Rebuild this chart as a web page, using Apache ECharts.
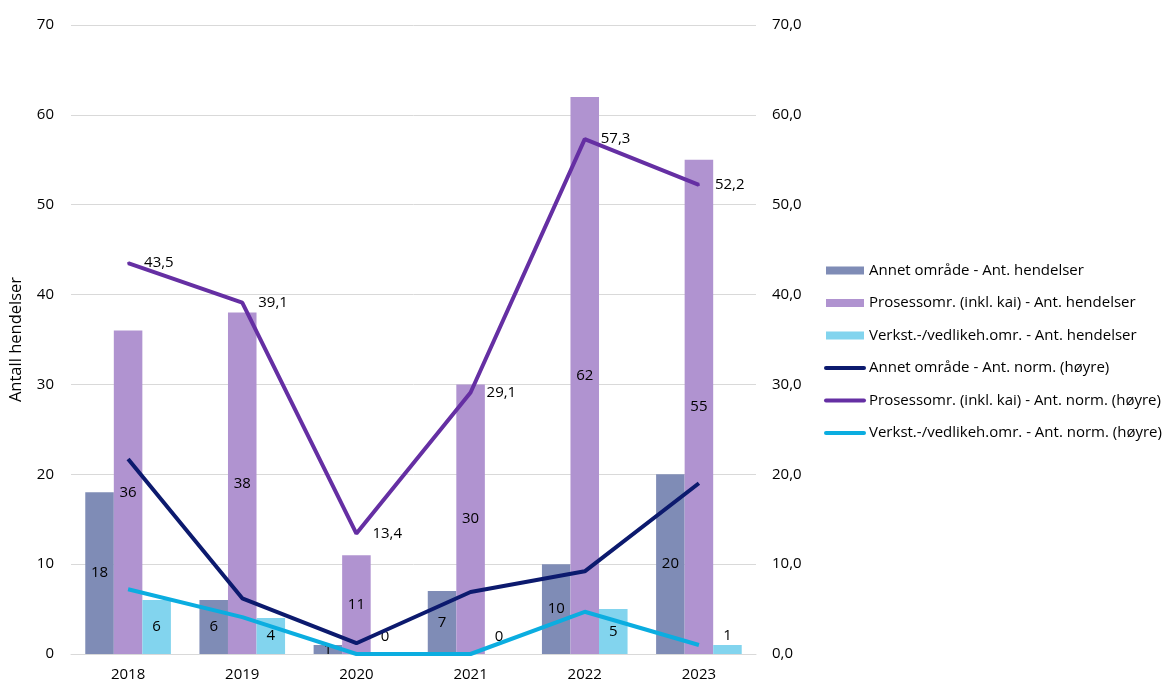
<!DOCTYPE html>
<html>
<head>
<meta charset="utf-8">
<script src="https://cdn.jsdelivr.net/npm/echarts@6/dist/echarts.min.js"></script>
<style>
html,body{margin:0;padding:0;background:#fff;}
#c{width:1172px;height:684px;}
</style>
</head>
<body>
<div id="c"></div>
<script>
const years = ['2018','2019','2020','2021','2022','2023'];
const annetCount = [18, 6, 1, 7, 10, 20];
const prosessCount = [36, 38, 11, 30, 62, 55];
const verkstCount = [6, 4, 0, 0, 5, 1];
const annetNorm = [21.7, 6.2, 1.2, 6.9, 9.2, 19.0];
const prosessNorm = [43.5, 39.1, 13.4, 29.1, 57.3, 52.2];
const verkstNorm = [7.2, 4.1, 0, 0, 4.7, 1.0];

const FONT = '"Open Sans", "Noto Sans", sans-serif';
const chart = echarts.init(document.getElementById('c'), null, {renderer: 'canvas'});

function barData(arr) {
  return arr.map(v => (v === 0 ? {value: v, label: {offset: [0, -17]}} : v));
}
const verkstData = verkstCount.map(v => {
  if (v === 0) return {value: v, label: {offset: [0, -17]}};
  if (v === 1) return {value: v, label: {offset: [0, -14]}};
  return v;
});

const barLabel = {show: true, position: 'inside', color: '#000', fontFamily: FONT, fontSize: 15};
const lineLabelFmt = p => p.value.toFixed(1).replace('.', ',');
const LW = 4;

chart.setOption({
  animation: false,
  textStyle: {fontFamily: FONT},
  grid: {left: 70, right: 416, top: 25, bottom: 30, containLabel: false},
  legend: {
    orient: 'vertical',
    left: 824,
    top: 263,
    padding: 0,
    itemWidth: 38,
    itemHeight: 8,
    itemGap: 17.5,
    textStyle: {fontFamily: FONT, fontSize: 15, color: '#000'},
    data: [
      {name: 'Annet område - Ant. hendelser', icon: 'rect'},
      {name: 'Prosessomr. (inkl. kai) - Ant. hendelser', icon: 'rect'},
      {name: 'Verkst.-/vedlikeh.omr. - Ant. hendelser', icon: 'rect'},
      {name: 'Annet område - Ant. norm. (høyre)', itemStyle: {opacity: 0}, lineStyle: {width: 4, cap: 'round'}},
      {name: 'Prosessomr. (inkl. kai) - Ant. norm. (høyre)', itemStyle: {opacity: 0}, lineStyle: {width: 4, cap: 'round'}},
      {name: 'Verkst.-/vedlikeh.omr. - Ant. norm. (høyre)', itemStyle: {opacity: 0}, lineStyle: {width: 4, cap: 'round'}}
    ]
  },
  xAxis: {
    type: 'category',
    data: years,
    axisLine: {lineStyle: {color: '#d9d9d9', width: 1}},
    axisTick: {show: false},
    axisLabel: {color: '#000', fontSize: 15, fontFamily: FONT, margin: 13}
  },
  yAxis: [
    {
      type: 'value', min: 0, max: 70, interval: 10,
      name: 'Antall hendelser', nameLocation: 'middle', nameGap: 46, nameRotate: 90,
      nameTextStyle: {color: '#000', fontSize: 16.5, fontFamily: FONT},
      axisLine: {show: false}, axisTick: {show: false},
      axisLabel: {color: '#000', fontSize: 15, fontFamily: FONT, margin: 17},
      splitLine: {lineStyle: {color: '#d9d9d9', width: 1}}
    },
    {
      type: 'value', min: 0, max: 70, interval: 10,
      axisLine: {show: false}, axisTick: {show: false},
      axisLabel: {color: '#000', fontSize: 15, fontFamily: FONT, margin: 16,
        formatter: v => v.toFixed(1).replace('.', ',')},
      splitLine: {show: false}
    }
  ],
  series: [
    {name: 'Annet område - Ant. hendelser', type: 'bar', data: barData(annetCount),
      barGap: '0%', barCategoryGap: '25%', itemStyle: {color: '#7f8cb6'}, label: barLabel, z: 2},
    {name: 'Prosessomr. (inkl. kai) - Ant. hendelser', type: 'bar', data: barData(prosessCount),
      barGap: '0%', barCategoryGap: '25%', itemStyle: {color: '#b093d0'}, label: barLabel, z: 2},
    {name: 'Verkst.-/vedlikeh.omr. - Ant. hendelser', type: 'bar', data: verkstData,
      barGap: '0%', barCategoryGap: '25%', itemStyle: {color: '#82d4ee'}, label: barLabel, z: 2},
    {name: 'Annet område - Ant. norm. (høyre)', type: 'line', yAxisIndex: 1, data: annetNorm,
      symbol: 'none', lineStyle: {color: '#0c1a6e', width: LW}, itemStyle: {color: '#0c1a6e'}, z: 5},
    {name: 'Prosessomr. (inkl. kai) - Ant. norm. (høyre)', type: 'line', yAxisIndex: 1, data: prosessNorm,
      symbol: 'circle', symbolSize: 2, showSymbol: true, lineStyle: {color: '#652fa3', width: LW},
      itemStyle: {color: '#652fa3', borderWidth: 0}, z: 5,
      label: {show: true, position: 'right', distance: 15, color: '#000', opacity: 1, fontSize: 15, fontFamily: FONT, formatter: lineLabelFmt}},
    {name: 'Verkst.-/vedlikeh.omr. - Ant. norm. (høyre)', type: 'line', yAxisIndex: 1, data: verkstNorm,
      symbol: 'none', lineStyle: {color: '#0bade0', width: LW}, itemStyle: {color: '#0bade0'}, z: 5}
  ]
});
</script>
</body>
</html>
